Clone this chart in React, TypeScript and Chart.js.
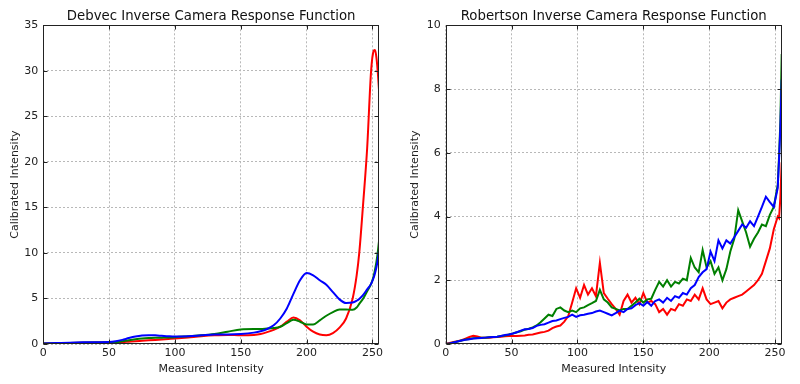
import React, { useEffect, useRef } from "react";
import { Chart, registerables } from "chart.js";
Chart.register(...registerables);

// ---------- Debvec (smooth curves) ----------
const DEBVEC_X = [0, 10, 20, 30, 40, 50, 55, 60, 65, 70, 75, 80, 85, 90, 95, 100, 110, 120, 130, 140, 150, 160, 165, 170, 175, 180, 185, 190, 195, 200, 205, 210, 215, 220, 225, 230, 235, 238, 240, 243, 246, 249, 251, 252, 253, 254, 255];
const DEBVEC_RED = [0.05, 0.08, 0.12, 0.15, 0.17, 0.18, 0.2, 0.22, 0.26, 0.3, 0.35, 0.4, 0.45, 0.5, 0.55, 0.6, 0.72, 0.85, 0.95, 1.0, 0.95, 1.0, 1.1, 1.3, 1.55, 1.9, 2.45, 2.9, 2.6, 1.9, 1.35, 1.05, 0.97, 1.2, 1.8, 2.8, 5.0, 7.5, 10, 15.5, 21.5, 30, 32.2, 32.3, 31.5, 30, 27.9];
const DEBVEC_GREEN = [0.05, 0.08, 0.12, 0.15, 0.17, 0.18, 0.2, 0.3, 0.42, 0.52, 0.6, 0.65, 0.68, 0.7, 0.72, 0.75, 0.85, 0.95, 1.1, 1.35, 1.6, 1.65, 1.65, 1.7, 1.75, 1.9, 2.3, 2.65, 2.45, 2.15, 2.15, 2.6, 3.1, 3.5, 3.78, 3.8, 3.75, 4.0, 4.4, 5.0, 5.8, 6.6, 7.5, 8.2, 9.0, 10.0, 11.3];
const DEBVEC_BLUE = [0.05, 0.1, 0.15, 0.18, 0.2, 0.22, 0.3, 0.45, 0.65, 0.82, 0.93, 0.97, 0.95, 0.9, 0.85, 0.82, 0.85, 0.95, 1.05, 1.05, 1.1, 1.25, 1.4, 1.65, 2.05, 2.8, 3.9, 5.5, 7.0, 7.8, 7.55, 7.0, 6.5, 5.7, 4.9, 4.5, 4.55, 4.75, 4.95, 5.4, 6.0, 6.6, 7.3, 7.8, 8.4, 9.2, 10.3];

// ---------- Robertson (noisy curves) ----------
const ROB_X = [0, 3, 6, 9, 12, 15, 18, 21, 24, 27, 30, 33, 36, 39, 42, 45, 48, 51, 54, 57, 60, 63, 66, 69, 72, 75, 78, 81, 84, 87, 90, 93, 96, 99, 102, 105, 108, 111, 114, 117, 120, 123, 126, 129, 132, 135, 138, 141, 144, 147, 150, 153, 156, 159, 162, 165, 168, 171, 174, 177, 180, 183, 186, 189, 192, 195, 198, 201, 204, 207, 210, 213, 216, 219, 222, 225, 228, 231, 234, 237, 240, 243, 246, 249, 252, 253, 254, 255];
const ROB_RED = [0, 0.03, 0.06, 0.09, 0.12, 0.17, 0.22, 0.26, 0.24, 0.2, 0.2, 0.2, 0.21, 0.22, 0.23, 0.24, 0.25, 0.25, 0.25, 0.26, 0.27, 0.29, 0.3, 0.33, 0.36, 0.38, 0.42, 0.5, 0.55, 0.58, 0.7, 0.88, 1.3, 1.75, 1.45, 1.85, 1.55, 1.75, 1.5, 2.55, 1.6, 1.42, 1.25, 1.1, 0.92, 1.35, 1.55, 1.3, 1.45, 1.25, 1.6, 1.3, 1.35, 1.25, 1.0, 1.1, 0.92, 1.1, 1.05, 1.25, 1.2, 1.4, 1.35, 1.55, 1.4, 1.75, 1.4, 1.25, 1.3, 1.35, 1.12, 1.3, 1.4, 1.45, 1.5, 1.55, 1.65, 1.75, 1.85, 2.0, 2.2, 2.6, 3.0, 3.6, 4.0, 3.95, 4.6, 5.7];
const ROB_GREEN = [0, 0.02, 0.05, 0.08, 0.11, 0.14, 0.16, 0.18, 0.19, 0.2, 0.2, 0.21, 0.22, 0.23, 0.25, 0.27, 0.3, 0.33, 0.37, 0.4, 0.45, 0.48, 0.52, 0.58, 0.68, 0.8, 0.92, 0.88, 1.1, 1.15, 1.05, 1.0, 1.05, 1.0, 1.12, 1.15, 1.22, 1.28, 1.35, 1.7, 1.4, 1.3, 1.15, 1.1, 1.05, 1.1, 1.1, 1.2, 1.3, 1.42, 1.3, 1.4, 1.42, 1.7, 1.95, 1.8, 2.0, 1.8, 1.95, 1.9, 2.05, 2.0, 2.7, 2.4, 2.25, 2.95, 2.4, 2.6, 2.2, 2.4, 2.0, 2.35, 2.9, 3.3, 4.2, 3.85, 3.5, 3.05, 3.3, 3.5, 3.75, 3.7, 4.05, 4.3, 5.0, 5.9, 7.0, 9.1];
const ROB_BLUE = [0, 0.02, 0.05, 0.08, 0.11, 0.13, 0.15, 0.17, 0.18, 0.19, 0.2, 0.21, 0.22, 0.23, 0.25, 0.28, 0.3, 0.33, 0.37, 0.42, 0.46, 0.47, 0.5, 0.57, 0.6, 0.62, 0.67, 0.72, 0.74, 0.78, 0.82, 0.85, 0.92, 0.85, 0.9, 0.92, 0.95, 0.97, 1.02, 1.05, 1.0, 0.95, 0.9, 0.97, 1.05, 1.0, 1.1, 1.12, 1.22, 1.28, 1.2, 1.32, 1.2, 1.35, 1.4, 1.3, 1.45, 1.35, 1.5, 1.45, 1.6, 1.55, 1.75, 1.85, 2.1, 2.25, 2.35, 2.9, 2.6, 3.25, 3.0, 3.25, 3.15, 3.35, 3.55, 3.75, 3.65, 3.85, 3.7, 4.0, 4.3, 4.62, 4.45, 4.3, 4.9, 5.8, 6.8, 8.3];

const X_MAX = 255;
const X_STEP = 50;
const FONT = "'DejaVu Sans', sans-serif";

const framePlugin = {
  id: "frame",
  afterDatasetsDraw(chart: any) {
    const { ctx, chartArea: a, scales } = chart;
    const l = Math.round(a.left) + 0.5;
    const r = Math.round(a.right) - 0.5;
    const t = Math.round(a.top) + 0.5;
    const b = Math.round(a.bottom) - 0.5;
    ctx.save();
    ctx.strokeStyle = "#222";
    ctx.lineWidth = 1;
    ctx.strokeRect(l, t, r - l, b - t);
    const L = 4;
    ctx.beginPath();
    scales.x.ticks.forEach((tk: any) => {
      const px = Math.round(scales.x.getPixelForValue(tk.value)) + 0.5;
      ctx.moveTo(px, b); ctx.lineTo(px, b - L);
      ctx.moveTo(px, t); ctx.lineTo(px, t + L);
    });
    scales.y.ticks.forEach((tk: any) => {
      const py = Math.round(scales.y.getPixelForValue(tk.value)) + 0.5;
      ctx.moveTo(l, py); ctx.lineTo(l + L, py);
      ctx.moveTo(r, py); ctx.lineTo(r - L, py);
    });
    ctx.stroke();
    // title centred over the plot area
    const title = chart.options.plugins.plotTitle?.text;
    if (title) {
      ctx.fillStyle = "#111";
      ctx.font = `13.3px ${FONT}`;
      ctx.textAlign = "center";
      ctx.textBaseline = "middle";
      ctx.fillText(title, (a.left + a.right) / 2, 16.5);
    }
    ctx.restore();
  },
};

type PanelProps = {
  title: string;
  xs: number[];
  red: number[];
  green: number[];
  blue: number[];
  yMax: number;
  yStep: number;
  yAxisWidth: number;
  padRight: number;
  smooth: boolean;
};

function Panel(p: PanelProps) {
  const ref = useRef<HTMLCanvasElement>(null);
  useEffect(() => {
    if (!ref.current) return;
    const pts = (ys: number[]) => p.xs.map((x, i) => ({ x, y: ys[i] }));
    const ds = (label: string, color: string, ys: number[]) => ({
      label,
      data: pts(ys),
      borderColor: color,
      backgroundColor: color,
      borderWidth: 2,
      pointRadius: 0,
      fill: false,
      tension: p.smooth ? 0.4 : 0,
      cubicInterpolationMode: p.smooth ? ("monotone" as const) : ("default" as const),
    });
    const gridOpts = {
      color: "#b8b8b8",
      lineWidth: 1,
      drawTicks: false,
    };
    const chart = new Chart(ref.current, {
      type: "line",
      data: {
        datasets: [
          ds("Blue", "#0000ff", p.blue),
          ds("Green", "#007f00", p.green),
          ds("Red", "#ff0000", p.red),
        ],
      },
      options: {
        responsive: false,
        animation: false,
        devicePixelRatio: 1,
        layout: { autoPadding: false, padding: { left: 0, right: p.padRight, top: 25.3, bottom: 0 } },
        plugins: {
          legend: { display: false },
          tooltip: { enabled: false },
          title: { display: false },
          plotTitle: { text: p.title },
        } as any,
        scales: {
          x: {
            type: "linear",
            min: 0,
            max: X_MAX,
            border: { display: false, dash: [2, 2] },
            grid: gridOpts,
            ticks: {
              stepSize: X_STEP,
              includeBounds: false,
              color: "#222",
              font: { family: FONT, size: 11 },
              padding: 3,
              maxRotation: 0,
            },
            title: {
              display: true,
              text: "Measured Intensity",
              color: "#222",
              font: { family: FONT, size: 11 },
              padding: { top: 0, bottom: 8.4 },
            },
            afterFit: (s: any) => { s.height = 40; },
          },
          y: {
            type: "linear",
            min: 0,
            max: p.yMax,
            border: { display: false, dash: [2, 2] },
            grid: gridOpts,
            ticks: {
              stepSize: p.yStep,
              color: "#222",
              font: { family: FONT, size: 11 },
              padding: 5,
            },
            title: {
              display: true,
              text: "Calibrated Intensity",
              color: "#222",
              font: { family: FONT, size: 11 },
              padding: { top: 9, bottom: 0 },
            },
            afterFit: (s: any) => { s.width = p.yAxisWidth; },
          },
        },
      } as any,
      plugins: [framePlugin],
    });
    return () => chart.destroy();
  }, []);
  return <canvas ref={ref} width={400} height={384} style={{ display: "block", width: 400, height: 384 }} />;
}

export default function App() {
  return (
    <div style={{ position: "absolute", left: 0, top: 0, width: 800, height: 384, display: "flex", background: "#fff" }}>
      <Panel
        title="Debvec Inverse Camera Response Function"
        xs={DEBVEC_X}
        red={DEBVEC_RED}
        green={DEBVEC_GREEN}
        blue={DEBVEC_BLUE}
        yMax={35}
        yStep={5}
        yAxisWidth={43.3}
        padRight={21}
        smooth={true}
      />
      <Panel
        title="Robertson Inverse Camera Response Function"
        xs={ROB_X}
        red={ROB_RED}
        green={ROB_GREEN}
        blue={ROB_BLUE}
        yMax={10}
        yStep={2}
        yAxisWidth={45.7}
        padRight={18.3}
        smooth={false}
      />
    </div>
  );
}
